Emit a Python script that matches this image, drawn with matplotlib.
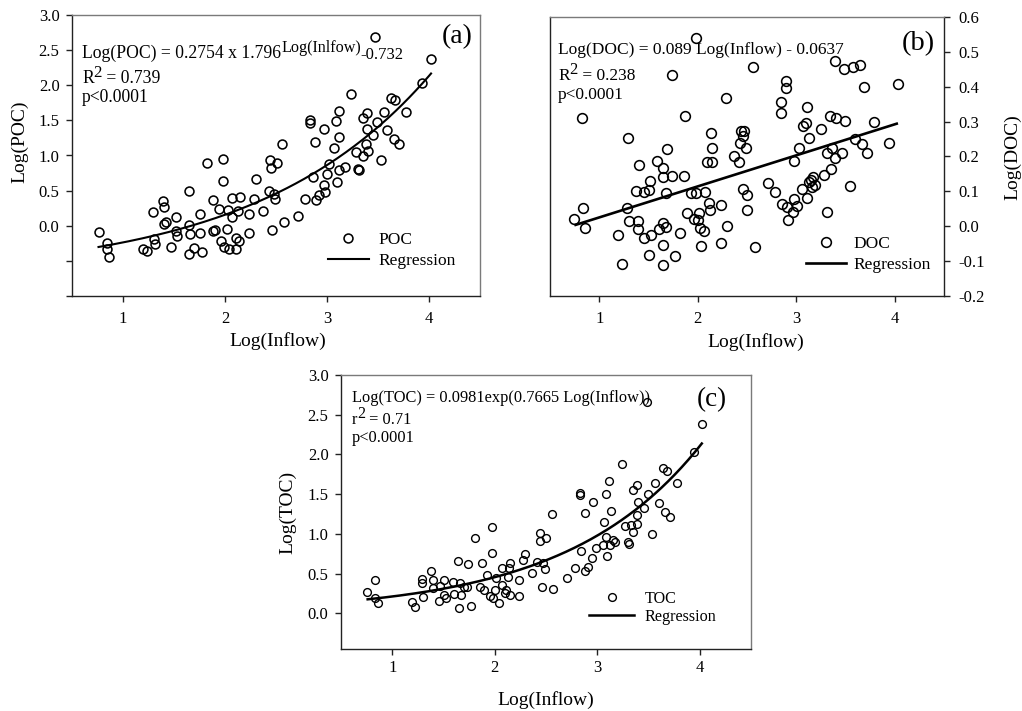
import numpy as np
import matplotlib
matplotlib.use("Agg")
import matplotlib.pyplot as plt
from matplotlib.lines import Line2D

plt.rcParams['font.family'] = ['Liberation Serif', 'DejaVu Serif']
plt.rcParams['axes.unicode_minus'] = False

# ---------------- data ----------------
poc_x = [0.76, 0.84, 0.84, 0.86, 1.20, 1.24, 1.29, 1.30, 1.31, 1.39, 1.40, 1.40, 1.42, 1.47, 1.52, 1.52,
         1.53, 1.65, 1.65, 1.66, 1.65, 1.70, 1.75, 1.75, 1.77, 1.82, 1.88, 1.88, 1.90, 1.94, 1.96, 1.98,
         1.98, 1.99, 2.02, 2.03, 2.04, 2.07, 2.07, 2.11, 2.11, 2.13, 2.15, 2.14, 2.24, 2.24, 2.28, 2.30,
         2.37, 2.43, 2.44, 2.45, 2.46, 2.48, 2.49, 2.51, 2.56, 2.58, 2.72, 2.78, 2.83, 2.83, 2.86, 2.88,
         2.89, 2.92, 2.97, 2.97, 2.98, 3.00, 3.02, 3.07, 3.09, 3.10, 3.12, 3.12, 3.12, 3.18, 3.24, 3.28,
         3.30, 3.31, 3.35, 3.35, 3.38, 3.39, 3.39, 3.40, 3.45, 3.47, 3.49, 3.53, 3.56, 3.59, 3.63, 3.66,
         3.67, 3.71, 3.77, 3.93, 4.02]
poc_y = [-0.09, -0.25, -0.33, -0.45, -0.33, -0.36, 0.19, -0.19, -0.26, 0.35, 0.26, 0.03, 0.05, -0.30, 0.13, -0.07,
         -0.14, 0.50, 0.01, -0.12, -0.40, -0.31, 0.17, -0.11, -0.38, 0.90, 0.36, -0.07, -0.06, 0.24, -0.21, 0.95,
         0.64, -0.30, -0.04, 0.22, -0.33, 0.40, 0.12, -0.18, -0.33, 0.21, 0.41, -0.21, 0.17, -0.10, 0.38, 0.66,
         0.21, 0.49, 0.93, 0.82, -0.06, 0.45, 0.38, 0.90, 1.17, 0.05, 0.14, 0.38, 1.46, 1.50, 0.69, 1.19,
         0.36, 0.44, 1.38, 0.58, 0.48, 0.74, 0.88, 1.10, 1.49, 0.62, 1.64, 1.26, 0.79, 0.83, 1.87, 1.05,
         0.81, 0.80, 1.54, 0.99, 1.17, 1.60, 1.38, 1.07, 1.29, 2.68, 1.48, 0.94, 1.62, 1.37, 1.82, 1.24,
         1.79, 1.17, 1.62, 2.03, 2.38]

doc_x = [0.745, 0.83, 0.823, 0.857, 1.187, 1.228, 1.282, 1.289, 1.299, 1.374, 1.391, 1.391, 1.401, 1.459, 1.459,
         1.51, 1.52, 1.503, 1.527, 1.584, 1.605, 1.646, 1.646, 1.646, 1.646, 1.646, 1.673, 1.673, 1.69, 1.737,
         1.737, 1.765, 1.815, 1.856, 1.866, 1.89, 1.934, 1.958, 1.979, 1.985, 2.0, 2.01, 2.02, 2.036, 2.063,
         2.077, 2.097, 2.111, 2.121, 2.138, 2.145, 2.145, 2.24, 2.24, 2.284, 2.301, 2.366, 2.42, 2.434, 2.444,
         2.461, 2.468, 2.485, 2.461, 2.495, 2.502, 2.563, 2.58, 2.716, 2.784, 2.842, 2.845, 2.852, 2.893, 2.896,
         2.903, 2.92, 2.971, 2.978, 3.005, 2.978, 3.029, 3.056, 3.073, 3.1, 3.107, 3.114, 3.134, 3.134, 3.147,
         3.158, 3.168, 3.192, 3.253, 3.277, 3.311, 3.311, 3.345, 3.355, 3.362, 3.389, 3.406, 3.389, 3.464, 3.48,
         3.497, 3.542, 3.572, 3.6, 3.65, 3.667, 3.684, 3.718, 3.786, 3.946, 4.031]
doc_y = [0.022, 0.051, 0.311, -0.005, -0.024, -0.107, 0.051, 0.254, 0.014, 0.102, 0.014, -0.007, 0.175, 0.097, -0.035,
         0.103, 0.129, -0.083, -0.024, 0.187, -0.007, 0.168, 0.142, 0.008, -0.053, -0.11, -0.002, 0.096, 0.221, 0.434,
         0.145, -0.086, -0.018, 0.145, 0.317, 0.039, 0.094, 0.022, 0.541, 0.096, 0.017, 0.039, -0.005, -0.057, -0.013,
         0.097, 0.183, 0.068, 0.046, 0.268, 0.225, 0.185, 0.06, -0.048, 0.369, 0.001, 0.201, 0.185, 0.240, 0.274,
         0.260, 0.273, 0.225, 0.106, 0.091, 0.046, 0.458, -0.059, 0.123, 0.097, 0.324, 0.355, 0.065, 0.417, 0.396,
         0.054, 0.017, 0.041, 0.078, 0.057, 0.187, 0.225, 0.106, 0.288, 0.295, 0.081, 0.343, 0.254, 0.127, 0.134,
         0.113, 0.142, 0.118, 0.279, 0.147, 0.041, 0.209, 0.317, 0.163, 0.223, 0.474, 0.311, 0.196, 0.209, 0.451,
         0.302, 0.116, 0.458, 0.249, 0.461, 0.235, 0.398, 0.209, 0.298, 0.24, 0.408]

toc_x = [0.749, 0.83, 0.83, 0.857, 1.189, 1.225, 1.287, 1.29, 1.296, 1.378, 1.394, 1.401, 1.459, 1.469, 1.508,
         1.508, 1.525, 1.59, 1.606, 1.639, 1.649, 1.662, 1.672, 1.704, 1.73, 1.74, 1.77, 1.812, 1.858, 1.871,
         1.893, 1.926, 1.949, 1.972, 1.975, 1.981, 2.004, 2.014, 2.037, 2.066, 2.069, 2.096, 2.112, 2.128, 2.138,
         2.144, 2.144, 2.236, 2.236, 2.275, 2.298, 2.363, 2.412, 2.438, 2.438, 2.461, 2.471, 2.487, 2.503, 2.559,
         2.568, 2.705, 2.78, 2.836, 2.836, 2.845, 2.878, 2.885, 2.907, 2.95, 2.962, 2.988, 3.057, 3.067, 3.083,
         3.089, 3.099, 3.113, 3.122, 3.132, 3.155, 3.171, 3.243, 3.269, 3.302, 3.312, 3.334, 3.344, 3.351, 3.384,
         3.384, 3.39, 3.4, 3.455, 3.481, 3.498, 3.53, 3.563, 3.602, 3.638, 3.661, 3.677, 3.71, 3.781, 3.944, 4.026]
toc_y = [0.273, 0.42, 0.189, 0.126, 0.147, 0.084, 0.432, 0.386, 0.201, 0.537, 0.42, 0.315, 0.159, 0.344, 0.42,
         0.231, 0.197, 0.39, 0.243, 0.659, 0.071, 0.386, 0.231, 0.336, 0.336, 0.621, 0.097, 0.953, 0.336, 0.638,
         0.294, 0.478, 0.218, 1.091, 0.755, 0.189, 0.294, 0.441, 0.126, 0.357, 0.567, 0.252, 0.294, 0.453, 0.567,
         0.638, 0.231, 0.42, 0.222, 0.671, 0.743, 0.512, 0.65, 1.007, 0.911, 0.336, 0.629, 0.554, 0.953, 1.246,
         0.302, 0.441, 0.567, 1.519, 1.49, 0.785, 0.537, 1.259, 0.587, 0.692, 1.397, 0.818, 0.86, 1.146, 0.965,
         1.502, 0.722, 1.666, 0.86, 1.292, 0.923, 0.902, 1.876, 1.099, 0.902, 0.869, 1.112, 1.553, 1.028, 1.616,
         1.238, 1.125, 1.406, 1.322, 2.665, 1.498, 0.999, 1.637, 1.385, 1.834, 1.28, 1.792, 1.209, 1.637, 2.035, 2.379]

# regression equations printed on the chart
poc_coef = (0.2754, 1.796, -0.732)   # a * b**x + c
doc_coef = (0.089, -0.0637)          # a*x + b
toc_coef = (0.0981, 0.7665)          # a*exp(b*x)
fit_range = (0.76, 4.02)

xticks = [1, 2, 3, 4]

# ---------------- figure ----------------
W, H = 1022, 711
fig = plt.figure(figsize=(W / 100, H / 100), dpi=100)


def fx(p):
    return p / W


def fy(p):
    return 1 - p / H


def make_axes(l, t, r, b):
    return fig.add_axes([fx(l), fy(b), (r - l) / W, (b - t) / H])


ax_a = make_axes(72, 15, 480, 296)
ax_b = make_axes(550, 17, 944, 296)
ax_c = make_axes(341, 375, 751, 649)

dark = '#222222'
light = '#7a7a7a'


def style(ax, right=False, xpad=7, ypad=5):
    for s in ['left', 'bottom', 'right', 'top']:
        ax.spines[s].set_linewidth(1.0)
    ax.spines['top'].set_color(light)
    if right:
        ax.spines['left'].set_color(dark)
        ax.spines['right'].set_color(dark)
        ax.yaxis.tick_right()
    else:
        ax.spines['left'].set_color(dark)
        ax.spines['right'].set_color(light)
    ax.spines['bottom'].set_color(dark)
    ax.tick_params(axis='x', direction='out', length=4, width=1, labelsize=12, pad=xpad, colors=dark,
                   labelcolor='black')
    ax.tick_params(axis='y', direction='out', length=4, width=1, labelsize=12, pad=ypad, colors=dark,
                   labelcolor='black')
    ax.set_xlim(0.5, 4.5)
    ax.set_xticks(xticks)
    ax.set_xticklabels([str(v) for v in xticks])


def chain(ax, x, y, parts):
    first = ax.annotate(parts[0][0], xy=(fx(x), fy(y)), xycoords='figure fraction',
                        va='baseline', ha='left', fontsize=parts[0][2], annotation_clip=False)
    prev = first
    for s, dy, fs in parts[1:]:
        prev = ax.annotate(s, xy=(1, 0), xycoords=(prev, first), xytext=(0, dy),
                           textcoords='offset points', va='bottom', ha='left', fontsize=fs,
                           annotation_clip=False)
    return first


def legend(ax, label, ms, mew, lw, anchor, fs, hl, htp, ls):
    h1 = Line2D([], [], marker='o', ls='none', mfc='none', mec='black', ms=ms, mew=mew)
    h2 = Line2D([], [], color='black', lw=lw)
    ax.legend([h1, h2], [label, 'Regression'], loc='lower right', bbox_to_anchor=anchor,
              frameon=False, borderaxespad=0, borderpad=0, handlelength=hl, handletextpad=htp,
              labelspacing=ls, fontsize=fs, numpoints=1)


# ---------- (a) ----------
style(ax_a)
ax_a.set_ylim(-1.0, 3.0)
yt_a = [-1.0, -0.5, 0.0, 0.5, 1.0, 1.5, 2.0, 2.5, 3.0]
ax_a.set_yticks(yt_a)
ax_a.set_yticklabels(['' if v < 0 else f'{v:.1f}' for v in yt_a])
ax_a.plot(poc_x, poc_y, 'o', mfc='none', mec='black', ms=6.4, mew=1.15, clip_on=False)
xa = np.linspace(fit_range[0], fit_range[1], 200)
ax_a.plot(xa, poc_coef[0] * poc_coef[1] ** xa + poc_coef[2], color='black', lw=1.5)
legend(ax_a, 'POC', 6.4, 1.15, 1.5, (0.941, 0.096), 12.5, 2.35, 0.57, 0.3)
chain(ax_a, 82, 58, [('Log(POC) = 0.2754 x 1.796', 0, 12.7), ('Log(Inlfow)', 4.5, 11.6),
                     ('-0.732', -0.6, 12.0)])
chain(ax_a, 82, 83, [('R', 0, 12.7), ('2', 4.0, 12.2), (' = 0.739', 0, 12.7)])
chain(ax_a, 82, 102, [('p<0.0001', 0, 12.7)])
fig.text(fx(457), fy(37), '(a)', fontsize=20, ha='center', va='center')
fig.text(fx(20), fy(142), 'Log(POC)', fontsize=14, rotation=90, ha='center', va='center')
fig.text(fx(278), fy(341), 'Log(Inflow)', fontsize=14, ha='center', va='center')

# ---------- (b) ----------
style(ax_b, right=True, ypad=6.5)
ax_b.set_ylim(-0.2, 0.6)
yt_b = [-0.2, -0.1, 0.0, 0.1, 0.2, 0.3, 0.4, 0.5, 0.6]
ax_b.set_yticks(yt_b)
ax_b.set_yticklabels([f'{v:.1f}' for v in yt_b])
ax_b.plot(doc_x, doc_y, 'o', mfc='none', mec='black', ms=7.0, mew=1.15, clip_on=False)
xb = np.linspace(fit_range[0], fit_range[1], 50)
ax_b.plot(xb, doc_coef[0] * xb + doc_coef[1], color='black', lw=1.9)
legend(ax_b, 'DOC', 7.0, 1.15, 1.9, (0.967, 0.082), 12.5, 2.3, 0.46, 0.3)
chain(ax_b, 558, 54, [('Log(DOC) = 0.089 Log(Inflow) - 0.0637', 0, 12.5)])
chain(ax_b, 558, 80, [('R', 0, 12.5), ('2', 4.0, 12.0), (' = 0.238', 0, 12.5)])
chain(ax_b, 558, 99, [('p<0.0001', 0, 12.5)])
fig.text(fx(918), fy(44), '(b)', fontsize=20.5, ha='center', va='center')
fig.text(fx(1013), fy(157), 'Log(DOC)', fontsize=14, rotation=90, ha='center', va='center')
fig.text(fx(756), fy(342), 'Log(Inflow)', fontsize=14, ha='center', va='center')

# ---------- (c) ----------
style(ax_c, xpad=4)
ax_c.set_ylim(-0.45, 3.0)
yt_c = [0.0, 0.5, 1.0, 1.5, 2.0, 2.5, 3.0]
ax_c.set_yticks(yt_c)
ax_c.set_yticklabels([f'{v:.1f}' for v in yt_c])
ax_c.plot(toc_x, toc_y, 'o', mfc='none', mec='black', ms=5.6, mew=1.0, clip_on=False)
xc = np.linspace(fit_range[0], fit_range[1], 200)
ax_c.plot(xc, toc_coef[0] * np.exp(toc_coef[1] * xc), color='black', lw=1.8)
legend(ax_c, 'TOC', 5.6, 1.0, 1.8, (0.915, 0.088), 11.6, 2.8, 0.62, 0.12)
chain(ax_c, 352, 402, [('Log(TOC) = 0.0981exp(0.7665 Log(Inflow))', 0, 11.8)])
chain(ax_c, 352, 424, [('r', 0, 11.8), ('2', 4.0, 11.5), (' = 0.71', 0, 11.8)])
chain(ax_c, 352, 442, [('p<0.0001', 0, 11.8)])
fig.text(fx(712), fy(400), '(c)', fontsize=19.5, ha='center', va='center')
fig.text(fx(288), fy(512), 'Log(TOC)', fontsize=14, rotation=90, ha='center', va='center')
fig.text(fx(546), fy(700), 'Log(Inflow)', fontsize=14, ha='center', va='center')

fig.savefig('out.png', dpi=100)
